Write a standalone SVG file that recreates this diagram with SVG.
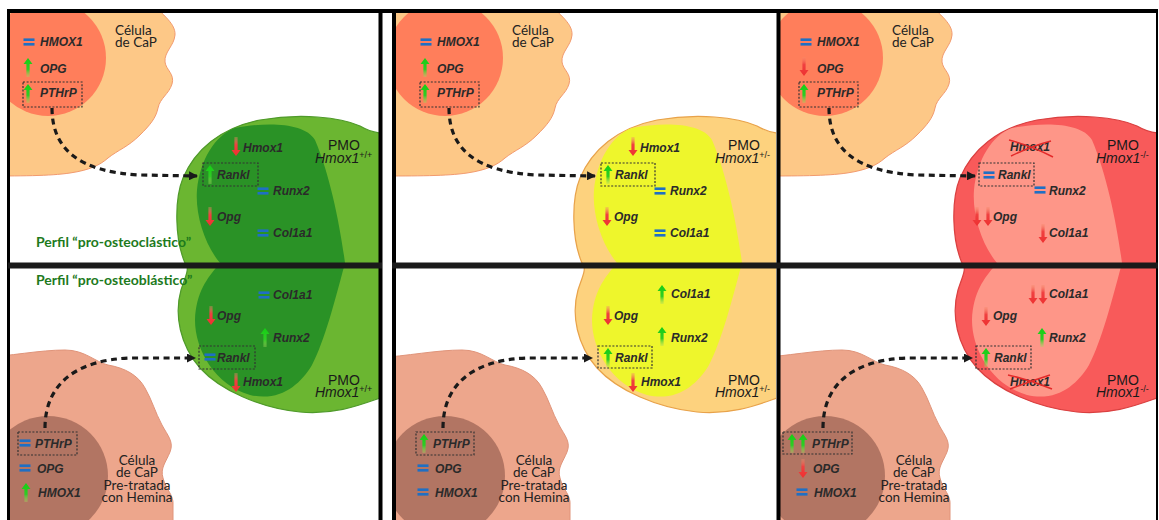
<svg xmlns="http://www.w3.org/2000/svg" xmlns:xlink="http://www.w3.org/1999/xlink" width="1159" height="520" viewBox="0 0 1159 520">
<style>
.g{font-family:"Liberation Sans",Arial,sans-serif;font-weight:bold;font-style:italic;font-size:12px;fill:#2a2a2a}
.lbl{font-family:Lato,"Liberation Sans",sans-serif;font-size:13.5px;fill:#222}
.pmo{font-family:"Liberation Sans",Arial,sans-serif;font-size:14px;fill:#1a1a1a}
.pmo .it{font-style:italic}
.sup{font-size:9px}
.perfil{font-family:Lato,"Liberation Sans",sans-serif;font-weight:bold;font-size:14px;fill:#1d7a1d}
.box{fill:none;stroke:#333;stroke-width:1.2;stroke-dasharray:2 1.6}
.link{fill:none;stroke:#1a1a1a;stroke-width:3.2;stroke-dasharray:6 4.5;marker-end:url(#ah)}
.cross{stroke:#e42a2a;stroke-width:1.5;fill:none}
.capA{fill:#fdc887;stroke:#f29a6e;stroke-width:1}
.nucA{fill:#ff7e5b}
.capB{fill:#eda68c;stroke:#e0947a;stroke-width:1}
.nucB{fill:#b27563}
.wtO{fill:#6bb631;stroke:#4f9a2a;stroke-width:1.2}
.wtI{fill:#2a9226}
.hetO{fill:#fdd27e;stroke:#e8a24a;stroke-width:1.2}
.hetI{fill:#eef62c}
.koO{fill:#f85a5a;stroke:#d94040;stroke-width:1.2}
.koI{fill:#fe9688}
</style>
<defs>
  <linearGradient id="gUp" x1="0" y1="0" x2="0" y2="1">
    <stop offset="0" stop-color="#14d014"/>
    <stop offset="0.6" stop-color="#2fcc24"/>
    <stop offset="1" stop-color="#a8d860" stop-opacity="0.35"/>
  </linearGradient>
  <linearGradient id="gDown" x1="0" y1="0" x2="0" y2="1">
    <stop offset="0" stop-color="#f58a6a" stop-opacity="0.35"/>
    <stop offset="0.4" stop-color="#f04040"/>
    <stop offset="1" stop-color="#ee3030"/>
  </linearGradient>
  <marker id="ah" markerUnits="userSpaceOnUse" markerWidth="9" markerHeight="9" viewBox="0 0 9 9" refX="8" refY="4.5" orient="auto">
    <path d="M0,0 L9,4.5 L0,9 Z" fill="#1a1a1a"/>
  </marker>
  <!-- expression marks: up, down, unchanged -->
  <path id="up" d="M0,0 L4.5,6 L1.6,6 L1.6,19 L-1.6,19 L-1.6,6 L-4.5,6 Z" fill="url(#gUp)"/>
  <path id="down" d="M0,19 L4.5,13 L1.6,13 L1.6,0 L-1.6,0 L-1.6,13 L-4.5,13 Z" fill="url(#gDown)"/>
  <g id="eq" fill="#1f6fc4">
    <rect x="-5.5" y="-3.6" width="11" height="2.6"/>
    <rect x="-5.5" y="1" width="11" height="2.6"/>
  </g>
  <!-- cell outlines, column-local coordinates -->
  <path id="capTop" d="M-20,0 L150,0 C158,12 176,22 175,35 C174,46 164,52 165,62 C166,70 175,74 172,84 C169,94 160,98 158,108 C156,118 150,125 140,135 C128,147 118,150 108,158 C100,165 90,170 70,173 C50,176 20,176 -20,176 Z"/>
  <path id="capBot" d="M-20,358 C10,356 40,350 65,350 C85,350 95,362 108,365 C125,368 138,375 145,388 C152,400 155,412 162,425 C168,436 174,442 170,452 C166,462 160,468 163,478 C166,490 174,495 173,505 L173,530 L-20,530 Z"/>
  <path id="pmoOuter" d="M400,130 C385,136 372,133 360,126 C340,117 300,113 260,120 C220,128 195,150 183,178 C174,200 175,240 185,263 C190,268 186,275 181,290 C174,315 180,345 200,368 C220,390 260,408 300,412 C335,415 360,405 380,398 L400,398 Z"/>
  <path id="pmoInner" d="M345,263 C340,225 330,175 315,140 C305,122 265,122 235,128 C215,135 200,160 197,190 C195,215 205,245 220,263 C210,275 196,290 195,320 C195,350 215,385 250,395 C280,402 300,385 312,365 C325,340 335,300 345,263 Z"/>
  <clipPath id="cLt"><rect x="10" y="13" width="369" height="250"/></clipPath>
  <clipPath id="cLb"><rect x="10" y="266" width="369" height="254"/></clipPath>
  <clipPath id="cMt"><rect x="396" y="13" width="380" height="250"/></clipPath>
  <clipPath id="cMb"><rect x="396" y="266" width="380" height="254"/></clipPath>
  <clipPath id="cRt"><rect x="780" y="13" width="377" height="250"/></clipPath>
  <clipPath id="cRb"><rect x="780" y="266" width="377" height="254"/></clipPath>
</defs>

<rect width="1159" height="520" fill="#fff"/>

<!-- ===== Column 1: wild-type PMO ===== -->
<g id="panel-wt-top" clip-path="url(#cLt)">
  <g id="cap-wt-top">
    <use href="#capTop" class="capA"/>
    <circle cx="48" cy="58" r="58" class="nucA"/>
    <use href="#eq" x="29" y="42"/><text class="g" x="40" y="46">HMOX1</text>
    <use href="#up" x="28" y="58"/><text class="g" x="40" y="73">OPG</text>
    <rect class="box" x="23" y="82" width="59" height="25"/>
    <use href="#up" x="28" y="84"/><text class="g" x="40" y="97">PTHrP</text>
    <text class="lbl" x="115" y="35">Célula<tspan x="115" dy="12">de CaP</tspan></text>
  </g>
  <g id="pmo-wt-top">
    <use href="#pmoOuter" class="wtO"/>
    <use href="#pmoInner" class="wtI"/>
    <use href="#down" x="236" y="137"/><text class="g" x="243" y="152">Hmox1</text>
    <rect class="box" x="203" y="163" width="55" height="23"/>
    <use href="#up" x="210" y="165"/><text class="g" x="217" y="179">Rankl</text>
    <use href="#eq" x="263" y="191"/><text class="g" x="273" y="195">Runx2</text>
    <use href="#down" x="210" y="207"/><text class="g" x="217" y="221">Opg</text>
    <use href="#eq" x="263" y="233"/><text class="g" x="273" y="237">Col1a1</text>
    <text class="pmo" x="328" y="150">PMO<tspan x="315" dy="13" class="it">Hmox1</tspan><tspan class="sup" dy="-5">+/+</tspan></text>
  </g>
  <text class="perfil" x="36" y="247">Perfil “pro-osteoclástico”</text>
  <g id="links-wt-top"><path class="link" d="M52,108 C52,150 80,172 140,175 L197,176"/></g>
</g>

<g id="panel-wt-bottom" clip-path="url(#cLb)">
  <g id="pmo-wt-bottom">
    <use href="#pmoOuter" class="wtO"/>
    <use href="#pmoInner" class="wtI"/>
    <use href="#eq" x="264" y="295"/><text class="g" x="273" y="299">Col1a1</text>
    <use href="#down" x="211" y="306"/><text class="g" x="217" y="320">Opg</text>
    <use href="#up" x="265" y="328"/><text class="g" x="273" y="342">Runx2</text>
    <rect class="box" x="199" y="346" width="56" height="23"/>
    <use href="#eq" x="210" y="357"/><text class="g" x="217" y="362">Rankl</text>
    <use href="#down" x="236" y="373"/><text class="g" x="243" y="386">Hmox1</text>
    <text class="pmo" x="328" y="385">PMO<tspan x="315" dy="12" class="it">Hmox1</tspan><tspan class="sup" dy="-5">+/+</tspan></text>
  </g>
  <text class="perfil" x="36" y="285">Perfil “pro-osteoblástico”</text>
  <g id="cap-wt-bottom">
    <use href="#capBot" class="capB"/>
    <circle cx="48" cy="476" r="60" class="nucB"/>
    <rect class="box" x="18" y="432" width="59" height="23"/>
    <use href="#eq" x="25" y="443"/><text class="g" x="35" y="448">PTHrP</text>
    <use href="#eq" x="25" y="468"/><text class="g" x="37" y="473">OPG</text>
    <use href="#up" x="26" y="483"/><text class="g" x="38" y="497">HMOX1</text>
    <text class="lbl" x="137" y="465" text-anchor="middle">Célula<tspan x="137" dy="12">de CaP</tspan><tspan x="137" dy="13">Pre-tratada</tspan><tspan x="137" dy="12">con Hemina</tspan></text>
  </g>
  <g id="links-wt-bottom"><path class="link" d="M45,428 C45,385 75,360 130,358 L195,358"/></g>
</g>

<!-- ===== Column 2: heterozygous PMO ===== -->
<g id="panel-het-top" clip-path="url(#cMt)">
  <g transform="translate(397,0)">
    <g id="cap-het-top">
      <use href="#capTop" class="capA"/>
      <circle cx="48" cy="58" r="58" class="nucA"/>
      <use href="#eq" x="29" y="42"/><text class="g" x="40" y="46">HMOX1</text>
      <use href="#up" x="28" y="58"/><text class="g" x="40" y="73">OPG</text>
      <rect class="box" x="23" y="82" width="59" height="25"/>
      <use href="#up" x="28" y="84"/><text class="g" x="40" y="97">PTHrP</text>
      <text class="lbl" x="115" y="35">Célula<tspan x="115" dy="12">de CaP</tspan></text>
    </g>
    <g id="pmo-het-top">
      <use href="#pmoOuter" class="hetO"/>
      <use href="#pmoInner" class="hetI"/>
      <use href="#down" x="236" y="137"/><text class="g" x="243" y="152">Hmox1</text>
      <rect class="box" x="204" y="163" width="54" height="23"/>
      <use href="#up" x="211" y="165"/><text class="g" x="218" y="179">Rankl</text>
      <use href="#eq" x="263" y="191"/><text class="g" x="273" y="195">Runx2</text>
      <use href="#down" x="210" y="207"/><text class="g" x="217" y="221">Opg</text>
      <use href="#eq" x="263" y="233"/><text class="g" x="273" y="237">Col1a1</text>
      <text class="pmo" x="331" y="150">PMO<tspan x="318" dy="13" class="it">Hmox1</tspan><tspan class="sup" dy="-5">+/-</tspan></text>
    </g>
    <g id="links-het-top"><path class="link" d="M52,108 C52,150 80,172 140,175 L198,176"/></g>
  </g>
</g>

<g id="panel-het-bottom" clip-path="url(#cMb)">
  <g transform="translate(397,0)">
    <g id="pmo-het-bottom">
      <use href="#pmoOuter" class="hetO"/>
      <use href="#pmoInner" class="hetI"/>
      <use href="#up" x="265" y="285"/><text class="g" x="274" y="298">Col1a1</text>
      <use href="#down" x="211" y="306"/><text class="g" x="217" y="320">Opg</text>
      <use href="#up" x="265" y="327"/><text class="g" x="274" y="342">Runx2</text>
      <rect class="box" x="201" y="346" width="54" height="22"/>
      <use href="#up" x="211" y="348"/><text class="g" x="218" y="362">Rankl</text>
      <use href="#down" x="236" y="373"/><text class="g" x="244" y="386">Hmox1</text>
      <text class="pmo" x="331" y="385">PMO<tspan x="318" dy="12" class="it">Hmox1</tspan><tspan class="sup" dy="-5">+/-</tspan></text>
    </g>
    <g id="cap-het-bottom">
      <use href="#capBot" class="capB"/>
      <circle cx="48" cy="476" r="60" class="nucB"/>
      <rect class="box" x="19" y="432" width="58" height="23"/>
      <use href="#up" x="27" y="434"/><text class="g" x="36" y="448">PTHrP</text>
      <use href="#eq" x="26" y="468"/><text class="g" x="38" y="473">OPG</text>
      <use href="#eq" x="26" y="492"/><text class="g" x="38" y="497">HMOX1</text>
      <text class="lbl" x="137" y="465" text-anchor="middle">Célula<tspan x="137" dy="12">de CaP</tspan><tspan x="137" dy="13">Pre-tratada</tspan><tspan x="137" dy="12">con Hemina</tspan></text>
    </g>
    <g id="links-het-bottom"><path class="link" d="M46,428 C46,385 75,360 130,358 L195,358"/></g>
  </g>
</g>

<!-- ===== Column 3: knockout PMO ===== -->
<g id="panel-ko-top" clip-path="url(#cRt)">
  <g transform="translate(777,0)">
    <g id="cap-ko-top">
      <use href="#capTop" class="capA"/>
      <circle cx="48" cy="58" r="58" class="nucA"/>
      <use href="#eq" x="29" y="42"/><text class="g" x="40" y="46">HMOX1</text>
      <use href="#down" x="27" y="57"/><text class="g" x="40" y="73">OPG</text>
      <rect class="box" x="22" y="82" width="59" height="25"/>
      <use href="#up" x="27" y="84"/><text class="g" x="40" y="97">PTHrP</text>
      <text class="lbl" x="115" y="35">Célula<tspan x="115" dy="12">de CaP</tspan></text>
    </g>
    <g id="pmo-ko-top">
      <use href="#pmoOuter" class="koO"/>
      <use href="#pmoInner" class="koI"/>
      <text class="g" x="233" y="151">Hmox1</text>
      <path class="cross" d="M232,140 Q255,146 276,157 M234,156 Q255,146 274,141"/>
      <rect class="box" x="202" y="163" width="55" height="23"/>
      <use href="#eq" x="212" y="175"/><text class="g" x="221" y="179">Rankl</text>
      <use href="#eq" x="263" y="190"/><text class="g" x="272" y="195">Runx2</text>
      <use href="#down" x="200" y="207"/><use href="#down" x="211" y="207"/><text class="g" x="216" y="221">Opg</text>
      <use href="#down" x="266" y="224"/><text class="g" x="272" y="237">Col1a1</text>
      <text class="pmo" x="330" y="150">PMO<tspan x="319" dy="13" class="it">Hmox1</tspan><tspan class="sup" dy="-5">-/-</tspan></text>
    </g>
    <g id="links-ko-top"><path class="link" d="M52,108 C52,150 80,172 140,175 L198,176"/></g>
  </g>
</g>

<g id="panel-ko-bottom" clip-path="url(#cRb)">
  <g transform="translate(777,0)">
    <g id="pmo-ko-bottom">
      <use href="#pmoOuter" class="koO"/>
      <use href="#pmoInner" class="koI"/>
      <use href="#down" x="256" y="285"/><use href="#down" x="266" y="285"/><text class="g" x="272" y="298">Col1a1</text>
      <use href="#down" x="209" y="307"/><text class="g" x="216" y="320">Opg</text>
      <use href="#up" x="265" y="328"/><text class="g" x="272" y="342">Runx2</text>
      <rect class="box" x="199" y="346" width="55" height="23"/>
      <use href="#up" x="209" y="348"/><text class="g" x="217" y="362">Rankl</text>
      <text class="g" x="233" y="386">Hmox1</text>
      <path class="cross" d="M231,375 Q254,380 275,389 M233,389 Q254,381 273,375"/>
      <text class="pmo" x="330" y="385">PMO<tspan x="319" dy="12" class="it">Hmox1</tspan><tspan class="sup" dy="-5">-/-</tspan></text>
    </g>
    <g id="cap-ko-bottom">
      <use href="#capBot" class="capB"/>
      <circle cx="48" cy="476" r="60" class="nucB"/>
      <rect class="box" x="6" y="432" width="69" height="22"/>
      <use href="#up" x="15" y="434"/><use href="#up" x="26" y="434"/><text class="g" x="35" y="448">PTHrP</text>
      <use href="#down" x="26" y="459"/><text class="g" x="36" y="473">OPG</text>
      <use href="#eq" x="25" y="492"/><text class="g" x="37" y="497">HMOX1</text>
      <text class="lbl" x="137" y="465" text-anchor="middle">Célula<tspan x="137" dy="12">de CaP</tspan><tspan x="137" dy="13">Pre-tratada</tspan><tspan x="137" dy="12">con Hemina</tspan></text>
    </g>
    <g id="links-ko-bottom"><path class="link" d="M46,428 C46,385 75,360 130,358 L195,358"/></g>
  </g>
</g>

<!-- panel frames -->
<g id="frames" stroke="#000" fill="none">
  <line x1="7" y1="11" x2="1158" y2="11" stroke-width="4"/>
  <line x1="8.5" y1="9" x2="8.5" y2="520" stroke-width="3"/>
  <line x1="380.5" y1="9" x2="380.5" y2="520" stroke-width="4"/>
  <line x1="394" y1="9" x2="394" y2="520" stroke-width="4"/>
  <line x1="778.5" y1="9" x2="778.5" y2="520" stroke-width="4"/>
  <line x1="1157" y1="9" x2="1157" y2="520" stroke-width="2"/>
  <line x1="8" y1="265.5" x2="382" y2="265.5" stroke-width="6" stroke="#1a1a1a"/>
  <line x1="392" y1="265.5" x2="1158" y2="265.5" stroke-width="6" stroke="#1a1a1a"/>
</g>
</svg>
